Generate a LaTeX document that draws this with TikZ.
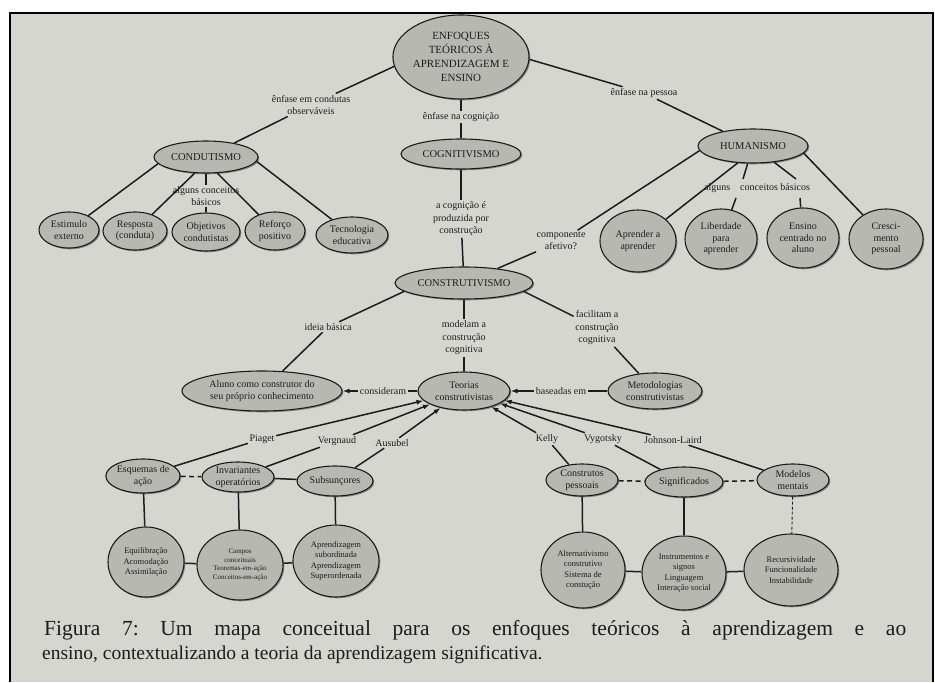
\documentclass[tikz,border=0pt]{standalone}
\usepackage{fontspec}
\setmainfont{Liberation Serif}
\usetikzlibrary{shapes.geometric,arrows.meta,shadows}
\definecolor{paper}{RGB}{214,214,209}
\definecolor{ellfill}{RGB}{184,184,179}
\definecolor{ink}{RGB}{28,28,28}
\newcommand\myfs[2]{\fontsize{#1}{#2}\selectfont}
\begin{document}
\begin{tikzpicture}[x=1pt,y=-1pt,
  ell/.style={ellipse, draw=ink, line width=1.1pt, fill=ellfill, inner sep=0pt, align=center, text=ink,
    font=\myfs{10}{11.5}, drop shadow={shadow xshift=1.3pt, shadow yshift=-1.3pt, fill=black!60, opacity=0.7}},
  sz/.style 2 args={minimum width=#1pt, minimum height=#2pt},
  caps/.style={font=\myfs{10.5}{12}},
  small/.style={font=\myfs{8.5}{10.5}},
  tiny/.style={font=\myfs{7}{8.6}},
  lab/.style={inner sep=1.5pt, align=center, text=ink, font=\myfs{10}{12.5}},
  con/.style={draw=ink, line width=1.5pt},
  arr/.style={con, -{Latex[length=7pt,width=5pt]}},
  dsh/.style={con, dash pattern=on 5pt off 3.5pt},
]
\fill[white] (0,0) rectangle (935,682);
\fill[paper] (10,13) rectangle (933,682);
\draw[line width=2pt] (10,682) -- (10,13) -- (933,13) -- (933,682);
\useasboundingbox (0,0) rectangle (935,682);

% --- nodes ---
\node[ell, sz={136}{84}, font=\myfs{11}{14}] (top) at (461,57) {ENFOQUES\\TEÓRICOS À\\APRENDIZAGEM E\\ENSINO};
\node[ell, caps, sz={104}{32}] (cond) at (206,157) {CONDUTISMO};
\node[ell, caps, sz={120}{30}] (cog) at (461,154) {COGNITIVISMO};
\node[ell, caps, sz={110}{34}] (hum) at (753,146) {HUMANISMO};

\node[ell, sz={60}{36}] (est) at (69,230) {Estimulo\\externo};
\node[ell, sz={64}{38}] (resp) at (135,231) {Resposta\\(conduta)};
\node[ell, sz={68}{38}] (obj) at (206,232) {Objetivos\\condutistas};
\node[ell, sz={60}{38}] (ref) at (275,231) {Reforço\\positivo};
\node[ell, sz={72}{36}] (tec) at (352,235) {Tecnologia\\educativa};

\node[ell, sz={76}{62}] (apr) at (638,241) {Aprender a\\aprender};
\node[ell, sz={72}{60}] (lib) at (721,239) {Liberdade\\para\\aprender};
\node[ell, sz={72}{60}] (ens) at (803,238) {Ensino\\centrado no\\aluno};
\node[ell, sz={74}{60}] (cres) at (886,239) {Cresci-\\mento\\pessoal};

\node[ell, caps, sz={138}{32}] (constr) at (464,283) {CONSTRUTIVISMO};
\node[ell, sz={160}{40}] (aluno) at (262,391) {Aluno como construtor do\\seu próprio conhecimento};
\node[ell, sz={92}{38}] (teor) at (464,391) {Teorias\\construtivistas};
\node[ell, sz={94}{36}] (met) at (655,391) {Metodologias\\construtivistas};

\node[ell, sz={72}{34}] (esq) at (143,476) {Esquemas de\\ação};
\node[ell, sz={72}{30}] (inv) at (238,477) {Invariantes\\operatórios};
\node[ell, sz={76}{30}] (sub) at (335,481) {Subsunçores};
\node[ell, sz={72}{32}] (cp) at (582,480) {Construtos\\pessoais};
\node[ell, sz={78}{30}] (sig) at (684,482) {Significados};
\node[ell, sz={72}{32}] (mod) at (793,480) {Modelos\\mentais};

\node[ell, small, sz={76}{70}] (eq) at (146,562) {Equilibração\\Acomodação\\Assimilação};
\node[ell, tiny, sz={86}{70}] (camp) at (240,565) {Campos\\conceituais\\Teoremas-em-ação\\Conceitos-em-ação};
\node[ell, small, sz={86}{72}] (apz) at (336,561) {Aprendizagem\\subordinada\\Aprendizagem\\Superordenada};
\node[ell, small, sz={84}{76}] (alt) at (583,570) {Alternativismo\\construtivo\\Sistema de\\constução};
\node[ell, small, sz={84}{74}] (inst) at (684,573) {Instrumentos e\\signos\\Linguagem\\Interação social};
\node[ell, small, sz={94}{72}] (rec) at (791,570) {Recursividade\\Funcionalidade\\Instabilidade};

% --- link labels ---
\node[lab] (l1) at (311,105) {ênfase em condutas\\observáveis};
\node[lab] (l2) at (461,117) {ênfase na cognição};
\node[lab] (l3) at (644,93) {ênfase na pessoa};
\node[lab] (l4) at (206,196) {alguns conceitos\\básicos};
\node[lab] (l5) at (461,219) {a cognição é\\produzida por\\construção};
\node[lab] (comp) at (561,241) {componente\\afetivo?};
\node[lab] (hl) at (757,188) {alguns\hspace{10pt}conceitos básicos};
\node[lab] (idb) at (328,327) {ideia básica};
\node[lab] (mdl) at (464,338) {modelam a\\construção\\cognitiva};
\node[lab] (fac) at (597,328) {facilitam a\\construção\\cognitiva};
\node[lab] (consid) at (383,391) {consideram};
\node[lab] (bas) at (561,391) {baseadas em};
\node[lab] (piaget) at (262,439) {Piaget};
\node[lab] (verg) at (337,441) {Vergnaud};
\node[lab] (aus) at (392,443) {Ausubel};
\node[lab] (kelly) at (547,439) {Kelly};
\node[lab] (vyg) at (603,439) {Vygotsky};
\node[lab] (jl) at (673,440) {Johnson-Laird};

\coordinate (h1) at (743,179);
\coordinate (h2) at (736,198);
\coordinate (h3) at (796,179);
\coordinate (h4) at (800,198);

% --- connectors ---
\draw[con] (top.188) -- (l1);
\draw[con] (l1) -- (cond);
\draw[con] (top) -- (l2);
\draw[con] (l2) -- (cog);
\draw[con] (top.358) -- (l3);
\draw[con] (l3) -- (hum);

\draw[con] (cond.188) -- (est);
\draw[con] (cond.235) -- (resp);
\draw[con] (cond) -- (l4);
\draw[con] (l4) -- (obj);
\draw[con] (cond.305) -- (ref);
\draw[con] (cond.355) -- (tec);

\draw[con] (cog) -- (l5);
\draw[con] (l5) -- (constr);

\draw[con] (hum.185) -- (comp);
\draw[con] (comp) -- (constr);
\draw[con] (hum.228) -- (apr);
\draw[con] (hum) -- (h1);
\draw[con] (h2) -- (lib);
\draw[con] (hum) -- (h3);
\draw[con] (h4) -- (ens);
\draw[con] (hum.352) -- (cres);

\draw[con] (constr.188) -- (idb);
\draw[con] (idb) -- (aluno);
\draw[con] (constr) -- (mdl);
\draw[con] (mdl) -- (teor);
\draw[con] (constr.352) -- (fac);
\draw[con] (fac) -- (met);

\draw[con] (teor) -- (consid);
\draw[arr] (consid) -- (aluno);
\draw[con] (met) -- (bas);
\draw[arr] (bas) -- (teor);

\draw[con] (esq) -- (piaget);
\draw[arr] (piaget) -- (teor);
\draw[con] (inv) -- (verg);
\draw[arr] (verg) -- (teor);
\draw[con] (sub) -- (aus);
\draw[arr] (aus) -- (teor);
\draw[con] (cp) -- (kelly);
\draw[arr] (kelly) -- (teor);
\draw[con] (sig) -- (vyg);
\draw[arr] (vyg) -- (teor);
\draw[con] (mod) -- (jl);
\draw[arr] (jl) -- (teor);

\draw[dsh] (esq) -- (inv);
\draw[con] (inv) -- (sub);
\draw[dsh] (cp) -- (sig);
\draw[dsh] (sig) -- (mod);

\draw[con] (esq) -- (eq);
\draw[con] (inv) -- (camp);
\draw[con] (sub) -- (apz);
\draw[con] (cp) -- (alt);
\draw[con, line width=2.3pt] (sig) -- (inst);
\draw[draw=ink, line width=0.9pt, dash pattern=on 3pt off 2pt] (mod) -- (rec);

\draw[con] (eq) -- (camp);
\draw[con] (camp) -- (apz);
\draw[con] (alt) -- (inst);
\draw[con] (inst) -- (rec);

% --- caption ---
\node[anchor=west, inner sep=0pt, text=ink, font=\myfs{21.5}{24}] (cap1) at (44,630)
  {\frenchspacing\makebox[862pt][s]{Figura 7: Um mapa conceitual para os enfoques teóricos à aprendizagem e ao}};
\node[anchor=west, inner sep=0pt, text=ink, font=\myfs{19.5}{22}] (cap2) at (42,655)
  {ensino, contextualizando a teoria da aprendizagem significativa.};
\end{tikzpicture}
\end{document}
